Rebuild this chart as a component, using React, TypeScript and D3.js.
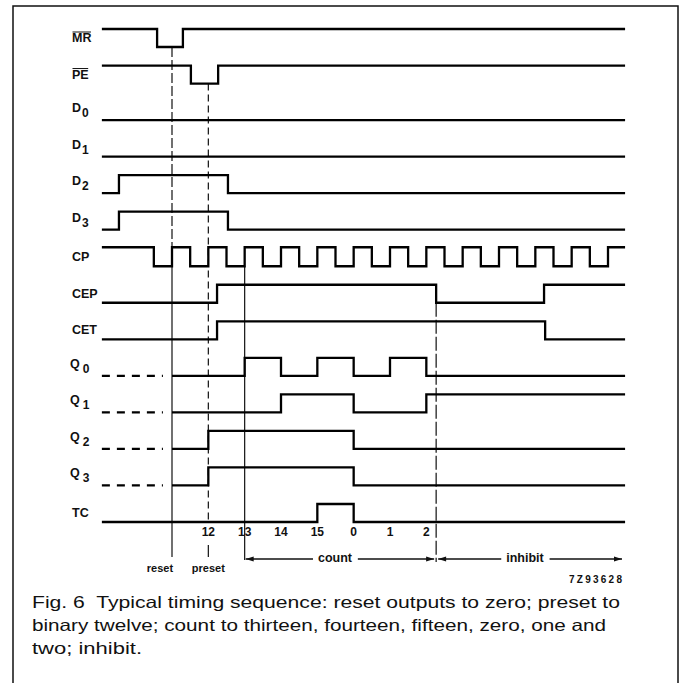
import { useEffect, useRef } from "react"
import * as d3 from "d3"

// signal rows, top to bottom
const signalNames = ["MR", "PE", "D0", "D1", "D2", "D3", "CP", "CEP", "CET", "Q0", "Q1", "Q2", "Q3", "TC"]
const labelMain = ["MR", "PE", "D", "D", "D", "D", "CP", "CEP", "CET", "Q", "Q", "Q", "Q", "TC"]
const labelSub = ["", "", "0", "1", "2", "3", "", "", "", "0", "1", "2", "3", ""]
const labelBar = [true, true, false, false, false, false, false, false, false, false, false, false, false, false]

// start level (1 = high) and edge times, in clock periods from the reset edge
const startLevels = [1, 1, 0, 0, 0, 0, 1, 0, 0, 0, 0, 0, 0, 0]
const mrEdges = [-0.41, 0.3]
const peEdges = [0.52, 1.27]
const d0Edges: number[] = []
const d1Edges: number[] = []
const d2Edges = [-1.46, 1.54]
const d3Edges = [-1.46, 1.54]
const cpEdges = [-0.5, 0, 0.5, 1, 1.5, 2, 2.5, 3, 3.5, 4, 4.5, 5, 5.5, 6, 6.5, 7, 7.5, 8, 8.5, 9, 9.5, 10, 10.5, 11, 11.5, 12]
const cepEdges = [1.24, 7.27, 10.24]
const cetEdges = [1.24, 10.27]
const q0Edges = [2, 3, 4, 5, 6, 7]
const q1Edges = [3, 5, 7]
const q2Edges = [1, 5]
const q3Edges = [1, 5]
const tcEdges = [4, 5]
const allEdges = [mrEdges, peEdges, d0Edges, d1Edges, d2Edges, d3Edges, cpEdges, cepEdges, cetEdges, q0Edges, q1Edges, q2Edges, q3Edges, tcEdges]
// outputs are undefined (dashed) before reset
const undefinedBefore = [false, false, false, false, false, false, false, false, false, true, true, true, true, false]

// count numbers under the TC row
const tickTimes = [1, 2, 3, 4, 5, 6, 7]
const tickLabels = ["12", "13", "14", "15", "0", "1", "2"]

const captionLines = [
  "Fig. 6  Typical timing sequence: reset outputs to zero; preset to",
  "binary twelve; count to thirteen, fourteen, fifteen, zero, one and",
  "two; inhibit.",
]

export default function App() {
  const svgRef = useRef<SVGSVGElement>(null)

  useEffect(() => {
    if (!svgRef.current) return
    document.body.style.margin = "0"
    const svg = d3.select(svgRef.current)
    svg.selectAll("*").remove()

    const width = 686
    const height = 683
    const tStart = -1.93
    const tEnd = 12.47
    const font = "'Liberation Sans', Arial, Helvetica, sans-serif"

    svg.attr("width", width).attr("height", height)
    svg.append("rect").attr("width", width).attr("height", height).attr("fill", "#fff")

    // frame
    svg
      .append("path")
      .attr("d", "M13,683 L13,6 L678,6 L678,683")
      .attr("fill", "none")
      .attr("stroke", "#111")
      .attr("stroke-width", 1.5)

    const x = d3.scaleLinear().domain([0, 12]).range([172, 608])
    const yLow = d3.scalePoint<string>().domain(signalNames).range([47, 522])
    const amp = (name: string) => (name === "CP" ? 19 : 18)
    const yLevel = (name: string, level: number) => (yLow(name) as number) - level * amp(name)

    // guide lines
    const guides = svg.append("g").attr("stroke", "#111").attr("stroke-width", 1.2).attr("fill", "none")
    const vline = (t: number, y1: number, y2: number, dash?: string) => {
      const l = guides.append("line").attr("x1", x(t)).attr("x2", x(t)).attr("y1", y1).attr("y2", y2)
      if (dash) l.attr("stroke-dasharray", dash)
    }
    vline(0, yLow("MR") as number, yLow("CP") as number, "10,3")
    vline(0, yLow("CP") as number, 557)
    vline(1, yLow("PE") as number, yLow("TC") as number, "7,4")
    vline(1, 545, 557)
    vline(2, yLow("CP") as number, 560)
    vline(cepEdges[1], yLow("CEP") as number, 562, "14,3")

    // waveforms
    const line = d3
      .line<[number, number]>()
      .x((d) => x(d[0]))
      .y((d) => d[1])
      .curve(d3.curveStepAfter)

    const waves = svg.append("g").attr("fill", "none").attr("stroke", "#000").attr("stroke-width", 2.3)

    signalNames.forEach((name, i) => {
      const edges = allEdges[i]
      let level = startLevels[i]
      const t0 = undefinedBefore[i] ? 0 : tStart
      const pts: [number, number][] = [[t0, yLevel(name, level)]]
      edges.forEach((e) => {
        level = 1 - level
        pts.push([e, yLevel(name, level)])
      })
      pts.push([tEnd, yLevel(name, level)])
      waves.append("path").attr("d", line(pts))

      if (undefinedBefore[i]) {
        waves
          .append("line")
          .attr("x1", x(tStart))
          .attr("x2", x(-0.25))
          .attr("y1", yLow(name) as number)
          .attr("y2", yLow(name) as number)
          .attr("stroke-dasharray", "8,7")
      }

      // label
      const low = yLow(name) as number
      const hasSub = labelSub[i] !== ""
      const txt = svg
        .append("text")
        .attr("x", name.startsWith("Q") ? 70 : 72)
        .attr("y", hasSub ? low - 8 : low - 5)
        .attr("font-family", font)
        .attr("font-weight", "bold")
        .attr("font-size", 12.5)
        .attr("fill", "#111")
        .text(labelMain[i])
      if (hasSub) {
        txt
          .append("tspan")
          .attr("dx", name.startsWith("Q") ? 3 : 1)
          .attr("dy", 5)
          .attr("font-size", 12)
          .text(labelSub[i])
      }
      if (labelBar[i]) {
        const bb = (txt.node() as SVGTextElement).getBBox()
        svg
          .append("line")
          .attr("x1", bb.x + 0.5)
          .attr("x2", bb.x + bb.width - 0.5)
          .attr("y1", bb.y + 1)
          .attr("y2", bb.y + 1)
          .attr("stroke", "#111")
          .attr("stroke-width", 1)
      }
    })

    // count numbers
    svg
      .append("g")
      .selectAll("text")
      .data(tickTimes)
      .enter()
      .append("text")
      .attr("x", (d) => x(d))
      .attr("y", 536)
      .attr("text-anchor", "middle")
      .attr("font-family", font)
      .attr("font-weight", "bold")
      .attr("font-size", 12)
      .attr("fill", "#111")
      .text((d, i) => tickLabels[i])

    const small = (tx: number, ty: number, s: string, size: number, anchor = "middle") =>
      svg
        .append("text")
        .attr("x", tx)
        .attr("y", ty)
        .attr("text-anchor", anchor)
        .attr("font-family", font)
        .attr("font-weight", "bold")
        .attr("font-size", size)
        .attr("fill", "#111")
        .text(s)

    small(x(0) - 12, 572, "reset", 11)
    small(x(1), 572, "preset", 11)

    // arrows
    const ay = 559
    const arrow = (xa: number, xb: number, label: string, cx: number) => {
      const t = small(cx, ay + 3, label, 12.5)
      const bb = (t.node() as SVGTextElement).getBBox()
      const g = svg.append("g")
      g.append("line").attr("x1", xa).attr("x2", bb.x - 5).attr("y1", ay).attr("y2", ay).attr("stroke", "#111").attr("stroke-width", 1.4)
      g.append("line").attr("x1", bb.x + bb.width + 5).attr("x2", xb).attr("y1", ay).attr("y2", ay).attr("stroke", "#111").attr("stroke-width", 1.4)
      g.append("path").attr("d", `M${xa},${ay} l8,-2.5 l0,5 Z`).attr("fill", "#111")
      g.append("path").attr("d", `M${xb},${ay} l-8,-2.5 l0,5 Z`).attr("fill", "#111")
    }
    arrow(x(2) + 1, x(cepEdges[1]) - 2, "count", 335)
    arrow(x(cepEdges[1]) + 2, 622, "inhibit", 525)

    small(569, 583, "7Z93628", 10, "start").attr("textLength", 53).attr("lengthAdjust", "spacing")

    // caption
    const capWidths = [588, 574, 110]
    captionLines.forEach((s, i) => {
      svg
        .append("text")
        .attr("x", 32)
        .attr("y", 608 + i * 23)
        .attr("font-family", font)
        .attr("font-size", 16.5)
        .attr("fill", "#111")
        .attr("textLength", capWidths[i])
        .attr("lengthAdjust", "spacingAndGlyphs")
        .style("white-space", "pre")
        .text(s)
    })
  }, [])

  return <svg ref={svgRef}></svg>
}
